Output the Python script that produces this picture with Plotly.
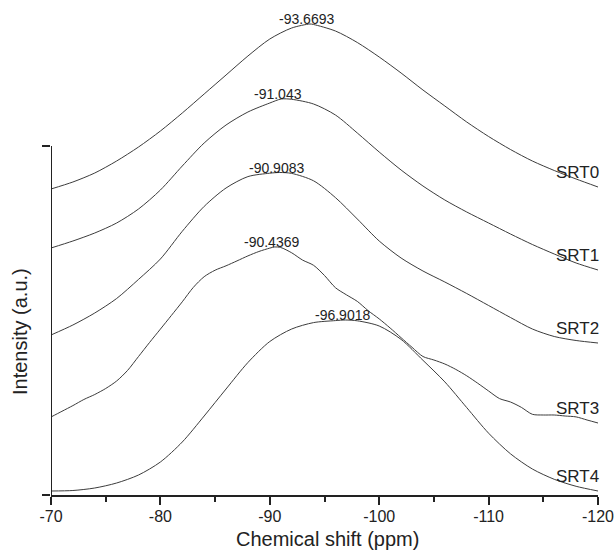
import plotly.graph_objects as go

# 29Si NMR spectra, stacked with vertical offsets (intensity in a.u.)
names = ["SRT0", "SRT1", "SRT2", "SRT3", "SRT4"]

ppm_srt0 = [-70, -72, -74, -76, -78, -80, -82, -84, -86, -88, -90, -92, -93.6693,
            -94, -96, -98, -100, -102, -104, -106, -108, -110, -112, -114, -116, -118, -120]
int_srt0 = [306, 313, 322, 334, 348, 364, 382, 401, 420, 439, 456, 467, 471,
            470.5, 464, 452.5, 438, 422, 405, 389, 373, 358.5, 345.5, 334, 324.5, 316, 308]

ppm_srt1 = [-70, -72, -74, -76, -78, -80, -82, -84, -86, -88, -90, -91.043,
            -92, -94, -96, -98, -100, -102, -104, -106, -108, -110, -112, -114, -116, -118, -120]
int_srt1 = [247, 254, 262, 272, 286, 305, 329, 352, 370, 383, 392, 396,
            395.7, 391, 380, 362, 343, 325, 309, 295, 283, 272, 261, 250.5, 241, 232, 225]

ppm_srt2 = [-70, -72, -74, -76, -78, -80, -82, -84, -86, -88, -90, -90.9083,
            -92, -94, -96, -98, -100, -102, -104, -106, -108, -110, -112, -114, -116, -118, -120]
int_srt2 = [160, 170, 182, 196.5, 215.6, 236, 263.7, 288.6, 307, 318.4, 321.8, 322.5,
            321.6, 314.2, 297.4, 276, 254, 237, 224, 213, 201.5, 189.5, 177.5, 166, 158.5, 154.5, 152]

ppm_srt3 = [-70, -71, -72, -73, -74, -75, -76, -77, -78, -79, -80, -81, -82, -83, -84, -85,
            -86, -87, -88, -89, -90, -90.4369, -91, -92, -93, -94, -95, -96, -97, -98, -99,
            -100, -101, -102, -103, -104, -105, -106, -107, -108, -109, -110, -111, -112,
            -113, -114, -115, -116, -117, -118, -119, -120]
int_srt3 = [78, 83.7, 89.4, 95.5, 100.5, 106.5, 114, 124.6, 138.5, 152.4, 165.9, 179.5,
            193.2, 207.5, 218.3, 224.8, 229.2, 234.1, 239.1, 243.5, 246.9, 248, 247.5, 242.2,
            234.9, 229.7, 219.5, 207.3, 200.2, 193.6, 184.25, 176.1, 167, 157.3, 147.7, 138.5,
            135, 131, 125.6, 119.2, 111.8, 104, 96.4, 93, 87.6, 80.7, 80, 80, 79, 78.1, 75, 72]

ppm_srt4 = [-70, -72, -74, -76, -78, -80, -82, -84, -86, -88, -90, -92, -94, -96, -96.9018,
            -98, -100, -102, -104, -106, -108, -110, -112, -114, -116, -118, -120]
int_srt4 = [4, 4.5, 7, 12, 20, 33, 53, 79, 106, 132.5, 153.5, 166, 172.4, 174.4, 175,
            174.2, 169, 155.6, 134.7, 113.1, 87.4, 61.8, 41.2, 26, 15.7, 8.7, 4]

# Labelled peak maxima (ppm)
peak_ppm = [-93.6693, -91.043, -90.9083, -90.4369, -96.9018]

x_ticks = [-70, -80, -90, -100, -110, -120]
x_tick_labels = ["-70", "-80", "-90", "-100", "-110", "-120"]

series_ppm = [ppm_srt0, ppm_srt1, ppm_srt2, ppm_srt3, ppm_srt4]
series_int = [int_srt0, int_srt1, int_srt2, int_srt3, int_srt4]

axis_top = 349  # upper end of the drawn intensity axis
FONT = "Arial, Liberation Sans, sans-serif"
INK = "#222222"
LINE = "#3c3c3c"

fig = go.Figure()
annotations = []

for name, xs, ys, pk in zip(names, series_ppm, series_int, peak_ppm):
    fig.add_trace(go.Scatter(
        x=xs, y=ys, mode="lines", name=name,
        line=dict(color=LINE, width=1, shape="spline", smoothing=0.8),
        showlegend=False, hoverinfo="skip",
    ))
    # peak position label sitting on top of the maximum
    i = xs.index(pk)
    annotations.append(dict(
        x=pk, y=ys[i], xref="x", yref="y", text=str(pk), showarrow=False,
        xanchor="center", yanchor="bottom", xshift=-3, yshift=-5,
        font=dict(family=FONT, size=14, color=INK),
    ))
    # series name near the right end of each trace
    annotations.append(dict(
        x=xs[-1], y=ys[-1], xref="x", yref="y", text=name, showarrow=False,
        xanchor="right", yanchor="middle", xshift=3, yshift=15,
        font=dict(family=FONT, size=17, color=INK),
    ))

# axis titles
annotations.append(dict(
    x=0.5, y=0, xref="paper", yref="paper", text="Chemical shift (ppm)",
    showarrow=False, xanchor="center", yanchor="middle", xshift=3, yshift=-44,
    font=dict(family=FONT, size=20, color=INK),
))
annotations.append(dict(
    x=0, y=163, xref="paper", yref="y", text="Intensity (a.u.)", textangle=-90,
    showarrow=False, xanchor="center", yanchor="middle", xshift=-31,
    font=dict(family=FONT, size=20, color=INK),
))

fig.update_layout(
    width=614, height=551,
    margin=dict(l=51, r=16, t=0, b=56, pad=0),
    paper_bgcolor="white", plot_bgcolor="white",
    font=dict(family=FONT, color=INK),
    annotations=annotations,
    shapes=[dict(type="line", xref="x", yref="y", x0=-70, x1=-70, y0=0, y1=axis_top,
                 line=dict(color=INK, width=2))],
    xaxis=dict(
        range=[-70, -120], tickvals=x_ticks, ticktext=x_tick_labels,
        ticks="outside", ticklen=8, tickwidth=2, tickcolor=INK,
        showline=True, linewidth=2, linecolor=INK,
        showgrid=False, zeroline=False,
        tickfont=dict(family=FONT, size=16, color=INK),
        ticklabelstandoff=-2, ticklabeloverflow="allow",
        minor=dict(tickvals=[-75, -85, -95, -105, -115], ticks="outside", ticklen=5,
                   tickwidth=2, tickcolor=INK, showgrid=False),
    ),
    yaxis=dict(
        range=[0, 495], tickvals=[0, axis_top], ticks="outside", ticklen=8,
        tickwidth=2, tickcolor=INK, showticklabels=False,
        showline=False, showgrid=False, zeroline=False,
    ),
)

fig.write_html("out.html")
